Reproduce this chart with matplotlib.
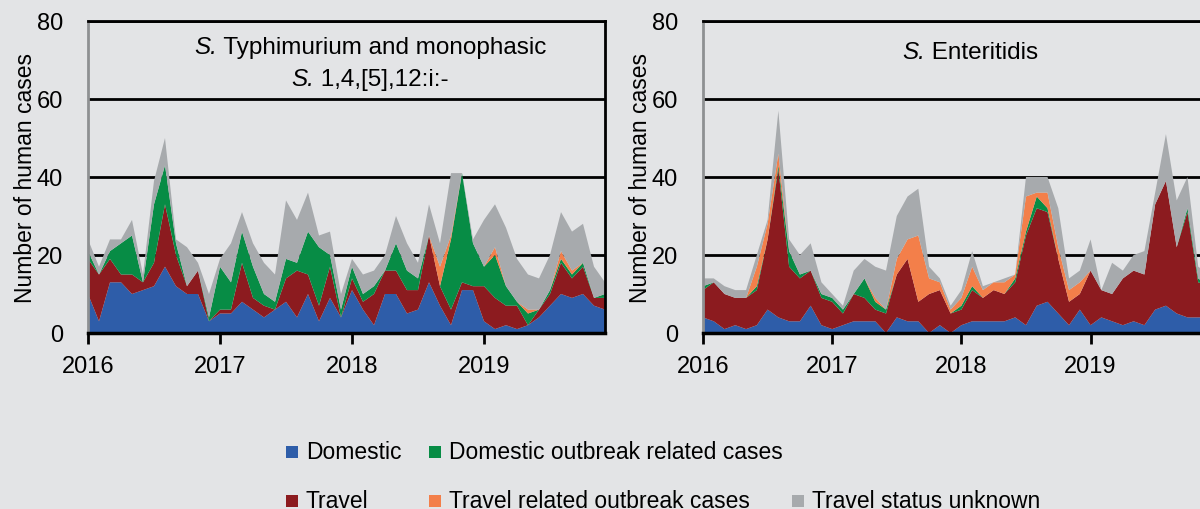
import matplotlib
matplotlib.use('Agg')
import matplotlib.pyplot as plt
import numpy as np
from matplotlib.patches import Rectangle

FONT = ['Liberation Sans', 'DejaVu Sans']
plt.rcParams['font.family'] = FONT

# ---------------- data ----------------
months = np.arange(48)            # Jan 2016 .. Dec 2019
year_ticks = [0, 12, 24, 36]
year_labels = ['2016', '2017', '2018', '2019']
y_ticks = [0, 20, 40, 60, 80]

series_labels = ['Domestic', 'Travel', 'Domestic outbreak related cases',
                 'Travel related outbreak cases', 'Travel status unknown']
colors = ['#2E5DA9', '#8C1B1F', '#078C45', '#F37F4A', '#A7AAAD']

# S. Typhimurium and monophasic S. 1,4,[5],12:i:-
typ_domestic = [10, 3, 13, 13, 10, 11, 12, 17, 12, 10, 10, 3,
                5, 5, 8, 6, 4, 6, 8, 4, 10, 3, 9, 4,
                11, 6, 2, 10, 10, 5, 6, 13, 7, 2, 11, 11,
                3, 1, 2, 1, 2, 4, 7, 10, 9, 10, 7, 6]
typ_travel = [9, 12, 6, 2, 5, 2, 6, 16, 8, 2, 6, 0,
              1, 1, 10, 3, 3, 0, 6, 12, 5, 4, 8, 0,
              3, 2, 8, 6, 6, 6, 5, 12, 5, 4, 2, 1,
              9, 8, 5, 6, 0, 2, 3, 8, 5, 7, 2, 3]
typ_dom_outbreak = [2, 0, 2, 8, 10, 0, 15, 10, 3, 0, 0, 1,
                    11, 7, 8, 8, 3, 2, 5, 2, 11, 15, 3, 2,
                    3, 2, 2, 0, 7, 5, 3, 0, 0, 18, 28, 11,
                    5, 11, 5, 1, 3, 0, 1, 1, 1, 1, 0, 1]
typ_trav_outbreak = [0, 0, 0, 0, 0, 0, 0, 0, 0, 0, 0, 0,
                     0, 0, 0, 0, 0, 0, 0, 0, 0, 0, 0, 0,
                     0, 0, 0, 0, 0, 0, 0, 0, 5, 1, 0, 0,
                     0, 2, 0, 0, 1, 0, 0, 2, 1, 0, 0, 0]
typ_unknown = [3, 2, 3, 1, 4, 2, 6, 7, 1, 10, 2, 6,
               2, 10, 5, 6, 8, 7, 15, 11, 10, 3, 6, 4,
               2, 5, 4, 4, 7, 7, 4, 8, 6, 16, 0, 1,
               12, 11, 15, 11, 9, 8, 9, 10, 10, 10, 8, 3]

# S. Enteritidis
ent_domestic = [4, 3, 1, 2, 1, 2, 6, 4, 3, 3, 7, 2,
                1, 2, 3, 3, 3, 0, 4, 3, 3, 0, 2, 0,
                2, 3, 3, 3, 3, 4, 2, 7, 8, 5, 2, 6,
                2, 4, 3, 2, 3, 2, 6, 7, 5, 4, 4, 4]
ent_travel = [7, 10, 9, 7, 8, 9, 18, 38, 14, 11, 9, 7,
              7, 3, 7, 6, 3, 5, 11, 16, 5, 10, 9, 5,
              4, 8, 6, 8, 7, 9, 23, 25, 23, 14, 6, 4,
              14, 7, 7, 12, 13, 13, 27, 32, 17, 27, 9, 8]
ent_dom_outbreak = [1, 0, 0, 0, 0, 1, 0, 1, 4, 1, 0, 1,
                    1, 1, 0, 5, 2, 1, 0, 0, 0, 0, 0, 0,
                    1, 1, 0, 0, 0, 1, 1, 3, 1, 0, 0, 0,
                    0, 0, 0, 0, 0, 0, 0, 0, 0, 1, 1, 0]
ent_trav_outbreak = [0, 0, 0, 0, 0, 5, 4, 3, 0, 0, 0, 0,
                     0, 0, 0, 0, 1, 0, 4, 5, 17, 4, 2, 1,
                     2, 5, 2, 2, 3, 1, 9, 1, 4, 3, 3, 3,
                     0, 0, 0, 0, 0, 0, 0, 0, 0, 0, 0, 0]
ent_unknown = [2, 1, 2, 2, 2, 3, 1, 11, 3, 5, 7, 3,
               1, 1, 6, 5, 8, 10, 11, 11, 12, 3, 1, 1,
               2, 4, 1, 0, 1, 0, 5, 4, 4, 10, 3, 3,
               8, 0, 8, 2, 4, 6, 3, 12, 12, 8, 3, 3]

BG = '#E3E4E6'
FS_TICK = 17
FS_LABEL = 16.5
FS_TITLE = 17.5
FS_LEG = 16.5

fig = plt.figure(figsize=(12, 5.1), dpi=100, facecolor=BG)
W, H = 1200, 510


def make_axes(x0, x1, y0=22, y1=334):
    return fig.add_axes([x0 / W, 1 - y1 / H, (x1 - x0) / W, (y1 - y0) / H])


ax1 = make_axes(88, 605)
ax2 = make_axes(703, 1209)

panels = [
    (ax1, [typ_domestic, typ_travel, typ_dom_outbreak, typ_trav_outbreak, typ_unknown]),
    (ax2, [ent_domestic, ent_travel, ent_dom_outbreak, ent_trav_outbreak, ent_unknown]),
]

for ax, data in panels:
    ax.set_facecolor(BG)
    ax.stackplot(months, *data, colors=colors, linewidth=0, labels=series_labels)
    ax.set_xlim(0, 47)
    ax.set_ylim(0, 80)
    ax.set_yticks(y_ticks)
    ax.set_xticks(year_ticks)
    ax.set_xticklabels(year_labels)
    ax.yaxis.grid(True, color='black', linewidth=2)
    ax.set_axisbelow(True)
    ax.tick_params(axis='y', length=0, pad=18, labelsize=FS_TICK)
    ax.tick_params(axis='x', length=8, width=2, direction='out', pad=8,
                   labelsize=FS_TICK, color='black')
    ax.spines['left'].set_color('#8E9092')
    ax.spines['left'].set_linewidth(2)
    ax.spines['bottom'].set_color('black')
    ax.spines['bottom'].set_linewidth(2.5)
    ax.spines['top'].set_color('black')
    ax.spines['top'].set_linewidth(2)
    ax.spines['right'].set_color('black')
    ax.spines['right'].set_linewidth(2)
    ax.set_ylabel('Number of human cases', fontsize=FS_LABEL)

ax1.yaxis.set_label_coords(-(88 - 37) / 517, 0.5)
ax2.yaxis.set_label_coords(-(703 - 652) / 506, 0.5)

renderer = fig.canvas.get_renderer()


def mixed_text(ax, xc, yc, italic, rest, size=FS_TITLE):
    t1 = ax.text(0, yc, italic, fontstyle='italic', fontsize=size, transform=ax.transAxes,
                 ha='left', va='center')
    t2 = ax.text(0, yc, rest, fontsize=size, transform=ax.transAxes, ha='left', va='center')
    axw = ax.get_window_extent(renderer).width
    w1 = t1.get_window_extent(renderer).width / axw
    w2 = t2.get_window_extent(renderer).width / axw
    x0 = xc - (w1 + w2) / 2
    t1.set_x(x0)
    t2.set_x(x0 + w1)


mixed_text(ax1, (370 - 88) / 517, (334 - 48) / 312, 'S.', ' Typhimurium and monophasic')
mixed_text(ax1, (370 - 88) / 517, (334 - 80) / 312, 'S.', ' 1,4,[5],12:i:-')
mixed_text(ax2, (970 - 703) / 506, (334 - 53) / 312, 'S.', ' Enteritidis')

# legend, laid out manually in two rows
legend_layout = [  # (series index, square left x px, row centre y px)
    (0, 286, 453), (2, 429, 453),
    (1, 286, 502), (3, 429, 502), (4, 792, 502),
]
sq = 12
for idx, xl, yc in legend_layout:
    fig.patches.append(Rectangle((xl / W, 1 - (yc + sq / 2) / H), sq / W, sq / H,
                                 transform=fig.transFigure, facecolor=colors[idx],
                                 edgecolor='none'))
    fig.text((xl + sq + 8) / W, 1 - yc / H, series_labels[idx], fontsize=FS_LEG,
             ha='left', va='center')

fig.savefig('out.png', dpi=100, facecolor=BG)
